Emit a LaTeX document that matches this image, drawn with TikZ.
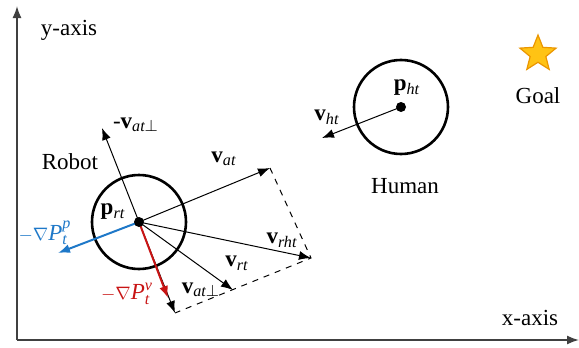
\documentclass[tikz,border=0pt]{standalone}
\usepackage{amsmath}
\usepackage{amssymb}
\usepackage{fontspec}
\setmainfont{LiberationSerif}[Extension=.ttf,UprightFont=*-Regular,BoldFont=*-Bold,ItalicFont=*-Italic,BoldItalicFont=*-BoldItalic]
\usepackage{tikz}
\usetikzlibrary{arrows.meta,shapes.geometric}

\definecolor{gradblue}{RGB}{30,120,200}
\definecolor{gradred}{RGB}{200,20,20}
\definecolor{goalfill}{RGB}{255,195,20}
\definecolor{goaledge}{RGB}{235,150,0}

\tikzset{
    vec/.style={->,line width=0.5pt},
    body/.style={line width=1.3pt},
    lbl/.style={font=\rmfamily\fontsize{11.5}{13}\selectfont, inner sep=0pt}
}

\begin{document}
\begin{tikzpicture}[x=0.5pt,y=-0.5pt,>={Latex[length=6pt,width=4.5pt]}]
        \useasboundingbox (0,0) rectangle (579,348);
        % axes
        \coordinate (o) at (17,340);
        \coordinate (ytop) at (17,6);
        \coordinate (xend) at (579,340);
        \draw[->,line width=0.8pt,black!75] (o)--(ytop);
        \draw[->,line width=0.8pt,black!75] (o)--(xend);
        \node[lbl] (ylab) at (69,30) {y-axis};
        \node[lbl] (xlab) at (530,318) {x-axis};
        % goal
        \node[star,star points=5,star point ratio=2.3,fill=goalfill,draw=goaledge,line width=0.6pt,minimum size=19pt,inner sep=0pt] (goal) at (538,54) {};
        \node[lbl] (goallab) at (538,96) {Goal};
        % human
        \coordinate (pht) at (401,107);
        \draw[body] (pht) circle (47);
        \fill (pht) circle (5);
        \coordinate (vht) at (322,138);
        \draw[vec] (pht)--(vht);
        \node[lbl] (humanlab) at (405,186) {Human};
        \node[lbl] (phtlab) at (407,88) {\textbf{p}$_{\textit{ht}}$};
        \node[lbl] (vhtlab) at (327,117) {\textbf{v}$_{\textit{ht}}$};
        % robot
        \coordinate (prt) at (139,222);
        \coordinate (vat) at (270,168);
        \coordinate (vatp) at (175,313);
        \coordinate (mvatp) at (102,128);
        \coordinate (vrht) at (311,258);
        \coordinate (vrt) at (233,290);
        \coordinate (gv) at (168,298);
        \coordinate (gp) at (58,253);
        \draw[body] (prt) circle (47);
        \draw[dashed,line width=0.5pt] (vat)--(vrht)--(vatp);
        \draw[vec] (prt)--(mvatp);
        \draw[vec] (prt)--(vat);
        \draw[vec] (prt)--(vrht);
        \draw[vec] (prt)--(vrt);
        \draw[vec] (prt)--(vatp);
        \draw[->,line width=1pt,gradred] (prt)--(gv);
        \draw[->,line width=1pt,gradblue] (prt)--(gp);
        \fill (prt) circle (5);
        \node[lbl] (robotlab) at (70,162) {Robot};
        \node[lbl] (prtlab) at (113,212) {\textbf{p}$_{\textit{rt}}$};
        \node[lbl] (mvatplab) at (136,125) {-\textbf{v}$_{\textit{at}\perp}$};
        \node[lbl] (vatlab) at (224,159) {\textbf{v}$_{\textit{at}}$};
        \node[lbl] (vrhtlab) at (282,240) {\textbf{v}$_{\textit{rht}}$};
        \node[lbl] (vrtlab) at (237,263) {\textbf{v}$_{\textit{rt}}$};
        \node[lbl] (vatplab) at (201,290) {\textbf{v}$_{\textit{at}\perp}$};
        \node[lbl,gradred] (gvlab) at (127,294) {{\small$-\nabla$}\textit{P}$_{\textit{t}}^{\textit{v}}$};
        \node[lbl,gradblue] (gplab) at (45,233) {{\small$-\nabla$}\textit{P}$_{\textit{t}}^{\textit{p}}$};
    \end{tikzpicture}
\end{document}
